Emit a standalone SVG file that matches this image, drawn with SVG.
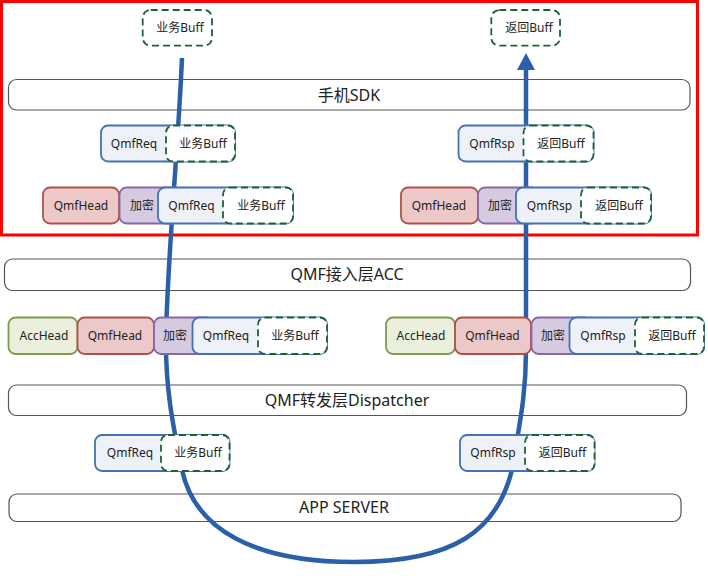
<svg xmlns="http://www.w3.org/2000/svg" width="708" height="583" viewBox="0 0 708 583">
<defs>
<style>
text{font-family:"Noto Sans","Noto Sans CJK SC",sans-serif;fill:#222;text-anchor:middle}
.t{font-size:12px}
.bt{font-size:16px}
.bar{fill:#fff;stroke:#555;stroke-width:1.2}
.box{stroke-width:1.8}
.head{fill:#ecc9c8;stroke:#b0504c}
.enc{fill:#d5cae0;stroke:#8767a6}
.msg{fill:#eef1f7;stroke:#4472b8}
.buf{fill:#fff;stroke:#1f6135;stroke-dasharray:7 4}
.acc{fill:#ebf0dd;stroke:#7f9a4a}
.flow{fill:none;stroke:#2b5fa9;stroke-width:4.5}
</style>
<marker id="ah" markerUnits="userSpaceOnUse" markerWidth="18" markerHeight="18" viewBox="0 0 18 18" refX="0" refY="9" orient="auto">
<path d="M0,0 L17,9 L0,18 z" fill="#2b5fa9"/>
</marker>
</defs>
<rect x="1.5" y="1.5" width="696" height="233.5" fill="none" stroke="#ff0000" stroke-width="3"/>
<g id="layers">
<g id="sdk"><rect class="bar" x="8.5" y="79.5" width="681.5" height="30.5" rx="8"/><text class="bt" x="349" y="101">手机SDK</text></g>
<g id="acc-layer"><rect class="bar" x="4.5" y="259" width="686" height="31.5" rx="8"/><text class="bt" x="347" y="280">QMF接入层ACC</text></g>
<g id="dispatcher"><rect class="bar" x="8.5" y="385" width="678" height="30.5" rx="8"/><text class="bt" x="347" y="406">QMF转发层Dispatcher</text></g>
<g id="appserver"><rect class="bar" x="9" y="494" width="672" height="27.5" rx="8"/><text class="bt" x="344" y="513">APP SERVER</text></g>
</g>
<g id="connectors">
<path class="flow" marker-end="url(#ah)" d="M182,58 C178,150 168,250 166,335 C165,390 174,430 182,470 C195,530 255,562 354,562 C455,562 497,530 512,470 C518,430 526,400 526,350 L526,70"/>
</g>
<g id="top-req"><rect class="box buf" x="142.7" y="10" width="69.3" height="35.7" rx="8"/><text class="t" x="180" y="32">业务Buff</text></g>
<g id="top-rsp"><rect class="box buf" x="491.3" y="10" width="68.7" height="35.7" rx="8"/><text class="t" x="529" y="32">返回Buff</text></g>
<g id="sdk-req">
<rect class="box msg" x="101" y="125.5" width="134" height="36" rx="7"/><text class="t" x="134" y="147.5">QmfReq</text>
<rect class="box buf" x="166" y="125.5" width="69" height="36" rx="7"/><text class="t" x="203" y="147.5">业务Buff</text>
</g>
<g id="sdk-rsp">
<rect class="box msg" x="458.5" y="125.5" width="135" height="36" rx="7"/><text class="t" x="492" y="147.5">QmfRsp</text>
<rect class="box buf" x="523.5" y="125.5" width="70" height="36" rx="7"/><text class="t" x="561" y="147.5">返回Buff</text>
</g>
<g id="sdk-req-pkt">
<rect class="box head" x="43" y="187.5" width="76" height="36" rx="7"/><text class="t" x="81" y="209.5">QmfHead</text>
<rect class="box enc" x="119.5" y="187.5" width="60" height="36" rx="7"/><text class="t" x="142" y="209.5">加密</text>
<rect class="box msg" x="158" y="187.5" width="135" height="36" rx="7"/><text class="t" x="191.5" y="209.5">QmfReq</text>
<rect class="box buf" x="223" y="187.5" width="70" height="36" rx="7"/><text class="t" x="261" y="209.5">业务Buff</text>
</g>
<g id="sdk-rsp-pkt">
<rect class="box head" x="401" y="187.5" width="77" height="36" rx="7"/><text class="t" x="439" y="209.5">QmfHead</text>
<rect class="box enc" x="478" y="187.5" width="60" height="36" rx="7"/><text class="t" x="500" y="209.5">加密</text>
<rect class="box msg" x="516" y="187.5" width="135" height="36" rx="7"/><text class="t" x="549.5" y="209.5">QmfRsp</text>
<rect class="box buf" x="581" y="187.5" width="70" height="36" rx="7"/><text class="t" x="619" y="209.5">返回Buff</text>
</g>
<g id="acc-req-pkt">
<rect class="box acc" x="8.5" y="317.5" width="69" height="36.5" rx="7"/><text class="t" x="44" y="340">AccHead</text>
<rect class="box head" x="77.5" y="317.5" width="76.5" height="36.5" rx="7"/><text class="t" x="115" y="340">QmfHead</text>
<rect class="box enc" x="154" y="317.5" width="60" height="36.5" rx="7"/><text class="t" x="175" y="340">加密</text>
<rect class="box msg" x="192.5" y="317.5" width="134.5" height="36.5" rx="7"/><text class="t" x="226" y="340">QmfReq</text>
<rect class="box buf" x="258" y="317.5" width="69" height="36.5" rx="7"/><text class="t" x="295" y="340">业务Buff</text>
</g>
<g id="acc-rsp-pkt">
<rect class="box acc" x="386" y="317.5" width="69" height="36.5" rx="7"/><text class="t" x="421" y="340">AccHead</text>
<rect class="box head" x="455" y="317.5" width="76" height="36.5" rx="7"/><text class="t" x="492.5" y="340">QmfHead</text>
<rect class="box enc" x="531.5" y="317.5" width="60" height="36.5" rx="7"/><text class="t" x="553" y="340">加密</text>
<rect class="box msg" x="569.5" y="317.5" width="134.5" height="36.5" rx="7"/><text class="t" x="603" y="340">QmfRsp</text>
<rect class="box buf" x="635" y="317.5" width="69" height="36.5" rx="7"/><text class="t" x="672" y="340">返回Buff</text>
</g>
<g id="app-req">
<rect class="box msg" x="95" y="435" width="134.5" height="36" rx="7"/><text class="t" x="130" y="457">QmfReq</text>
<rect class="box buf" x="161" y="435" width="68.5" height="36" rx="7"/><text class="t" x="198" y="457">业务Buff</text>
</g>
<g id="app-rsp">
<rect class="box msg" x="460" y="435" width="134.5" height="36" rx="7"/><text class="t" x="493" y="457">QmfRsp</text>
<rect class="box buf" x="525" y="435" width="69.5" height="36" rx="7"/><text class="t" x="562.5" y="457">返回Buff</text>
</g>
</svg>
